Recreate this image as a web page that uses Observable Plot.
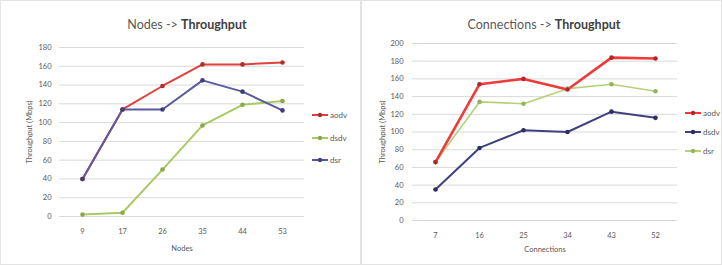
<!DOCTYPE html>
<html><head><meta charset="utf-8">
<script src="https://cdn.jsdelivr.net/npm/d3@7"></script>
<script src="https://cdn.jsdelivr.net/npm/@observablehq/plot@0.6"></script>
<style>
body{margin:0;background:#fff;font-family:Lato,"Open Sans",sans-serif;}
#wrap{display:flex;width:722px;height:265px;}
.panel{position:relative;width:359px;height:263px;border:1px solid #e3e3e3;overflow:hidden;background:#fff;}
.panel svg{position:absolute;left:0;top:0;}
.title{position:absolute;top:16px;font-size:12.5px;color:#595959;white-space:nowrap;transform:translateX(-50%);}
.title b{color:#404040;}
.legend{position:absolute;font-size:8px;color:#595959;}
.legend div{display:flex;align-items:center;height:0;position:absolute;white-space:nowrap;}
</style></head>
<body><div id="wrap"><div class="panel" id="p1"></div><div class="panel" id="p2"></div></div>
<script>
// Chart 1: Nodes -> Throughput
const nodes = [9, 17, 26, 35, 44, 53];
const nodesAodv = [40, 114, 139, 162, 162, 164];
const nodesDsdv = [2, 4, 50, 97, 119, 123];
const nodesDsr = [40, 114, 114, 145, 133, 113];
const nodesTicks = [0, 20, 40, 60, 80, 100, 120, 140, 160, 180];

// Chart 2: Connections -> Throughput
const connections = [7, 16, 25, 34, 43, 52];
const connAodv = [66, 154, 160, 148, 184, 183];
const connDsdv = [35, 82, 102, 100, 123, 116];
const connDsr = [66, 134, 132, 149, 154, 146];
const connTicks = [0, 20, 40, 60, 80, 100, 120, 140, 160, 180, 200];

const seriesNames = ["aodv", "dsdv", "dsr"];

function toRows(xs, arrs) {
  const rows = [];
  arrs.forEach((a, i) => a.forEach((v, j) => rows.push({x: xs[j], y: v, s: seriesNames[i]})));
  return rows;
}

function drawPanel(el, cfg) {
  const rows = toRows(cfg.xs, cfg.series);
  const svg = Plot.plot({
    width: 359, height: 263,
    marginLeft: cfg.ml, marginRight: cfg.mr, marginTop: cfg.mt, marginBottom: cfg.mb,
    style: {fontFamily: "Lato, 'Open Sans', sans-serif", fontSize: "7.5px", color: "#595959", background: "transparent"},
    x: {type: "point", domain: cfg.xs, padding: 0.5},
    y: {domain: [0, cfg.ymax]},
    marks: [
      Plot.gridY(cfg.ticks, {stroke: "#d9d9d9", strokeOpacity: 1}),
      Plot.axisY(cfg.ticks, {tickSize: 0, tickPadding: cfg.tp, label: "Throughput (Mbps)", labelAnchor: "center", labelArrow: "none", labelOffset: cfg.lo, fill: "#595959"}),
      Plot.axisX({tickSize: 0, tickPadding: 12, label: cfg.xlabel, labelAnchor: "center", labelArrow: "none", labelOffset: cfg.xlo, fill: "#595959"}),
      ...cfg.order.map(i => Plot.line(rows.filter(d => d.s === seriesNames[i]), {x: "x", y: "y", stroke: cfg.colors[i], strokeWidth: cfg.widths[i]})),
      ...cfg.order.map(i => Plot.dot(rows.filter(d => d.s === seriesNames[i]), {x: "x", y: "y", r: 2.3, fill: cfg.dotColors[i], stroke: "none"}))
    ]
  });
  el.appendChild(svg);
  const t = document.createElement("div");
  t.className = "title";
  t.style.left = cfg.titleX + "px";
  t.innerHTML = cfg.titleA + " <b>Throughput</b>";
  el.appendChild(t);
  const lg = document.createElement("div");
  lg.className = "legend";
  lg.style.left = cfg.legX + "px";
  lg.style.top = "0px";
  cfg.legOrder.forEach((i, k) => {
    const it = document.createElement("div");
    it.style.top = (cfg.legY + k * cfg.legGap) + "px";
    it.innerHTML = `<svg width="16" height="6" style="position:static"><line x1="0" y1="3" x2="16" y2="3" stroke="${cfg.colors[i]}" stroke-width="2"/><circle cx="8" cy="3" r="2.2" fill="${cfg.dotColors[i]}"/></svg><span style="margin-left:2px">${seriesNames[i]}</span>`;
    lg.appendChild(it);
  });
  el.appendChild(lg);
}

drawPanel(document.getElementById("p1"), {
  xs: nodes, series: [nodesAodv, nodesDsdv, nodesDsr], ticks: nodesTicks, ymax: 180,
  ml: 58, mr: 56, mt: 46, mb: 48, tp: 8, lo: 33, xlabel: "Nodes", xlo: 34,
  colors: ["#e0413b", "#aac964", "#5b5b9c"], dotColors: ["#a8302d", "#8aa84a", "#3f3f7a"], widths: [2, 2, 2],
  order: [1, 0, 2], legOrder: [0, 1, 2], legX: 311, legY: 114, legGap: 22.5,
  titleX: 186, titleA: "Nodes -&gt;"
});
drawPanel(document.getElementById("p2"), {
  xs: connections, series: [connAodv, connDsdv, connDsr], ticks: connTicks, ymax: 200,
  ml: 50, mr: 44, mt: 42, mb: 44, tp: 9, lo: 33, xlabel: "Connections", xlo: 31,
  colors: ["#f03a3a", "#404080", "#b5d27a"], dotColors: ["#b02828", "#2e2e66", "#94b45a"], widths: [2.6, 2, 1.6],
  order: [2, 1, 0], legOrder: [0, 1, 2], legX: 323, legY: 112, legGap: 19,
  titleX: 182, titleA: "Connections -&gt;"
});
</script></body></html>
